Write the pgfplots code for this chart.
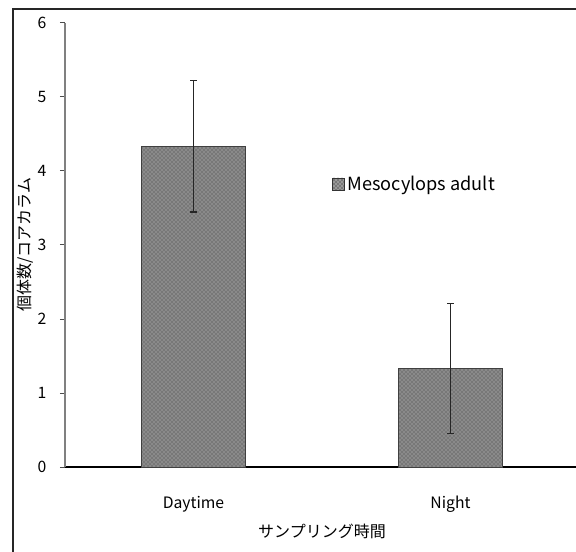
\documentclass[border=0pt]{standalone}
\usepackage{fontspec}
\setmainfont{Noto Sans CJK JP}
\usepackage{pgfplots}
\pgfplotsset{compat=1.18}
\usetikzlibrary{patterns}
\definecolor{barfill}{RGB}{120,120,120}
\definecolor{dotcol}{RGB}{200,200,200}
\begin{document}
\begin{tikzpicture}
\useasboundingbox (0,0) rectangle (432pt,414pt);
\draw[line width=1.4pt, black!85] (9.5pt,-10pt) -- (9.5pt,407.3pt) -- (450pt,407.3pt);
\begin{axis}[
  at={(48.75pt,63.75pt)}, anchor=south west,
  scale only axis, width=385.5pt, height=333.2pt,
  xmin=-0.5, xmax=1.5, ymin=0, ymax=6,
  axis x line=bottom, axis y line=left,
  axis line style={-},
  x axis line style={black, line width=0.9pt},
  y axis line style={gray, line width=0.8pt},
  xtick={0,1}, xticklabels={Daytime,Night},
  major x tick style={draw=none},
  extra x ticks={0.5}, extra x tick labels={},
  extra x tick style={major tick length=6pt, tick align=inside, major tick style={draw=gray, line width=0.6pt}},
  ytick={0,1,2,3,4,5,6},
  y tick style={draw=black!70, line width=0.6pt},
  major tick length=3.75pt, tick align=outside,
  /pgf/number format/assume math mode=true,
  tick label style={font=\fontsize{11.8pt}{12pt}\selectfont},
  xticklabel style={anchor=center, yshift=-24pt},
  yticklabel style={anchor=center, xshift=-13.5pt},
  xlabel={サンプリング時間},
  xlabel style={at={(axis description cs:0.5,0)}, anchor=center, yshift=-48pt, font=\fontsize{12pt}{12pt}\selectfont},
  ylabel={個体数/コアカラム},
  ylabel style={at={(axis description cs:0,0.5)}, anchor=center, rotate=0, yshift=29.6pt, font=\fontsize{12pt}{12pt}\selectfont},
  legend style={at={(axis description cs:0.519,0.637)}, anchor=west, draw=none, fill=none, inner sep=0pt,
    font=\fontsize{13.6pt}{14pt}\selectfont},
  legend image code/.code={\draw[draw=black!80, fill=barfill, postaction={pattern=crosshatch dots, pattern color=dotcol}] (0pt,-4.5pt) rectangle (9pt,4.5pt);},
  clip=false,
]
\addplot[ybar, bar width=78pt, draw=black!75, line width=0.6pt, fill=barfill,
  postaction={pattern=crosshatch dots, pattern color=dotcol},
  error bars/.cd, y dir=both, y explicit,
  error bar style={draw=black!85, line width=0.7pt},
  error mark options={rotate=90, mark size=2.6pt, draw=black!85, line width=0.9pt}]
  coordinates {(0,4.33) +- (0,0.885) (1,1.33) +- (0,0.88)};
\addlegendentry{Mesocylops adult}
\end{axis}
\end{tikzpicture}
\end{document}
